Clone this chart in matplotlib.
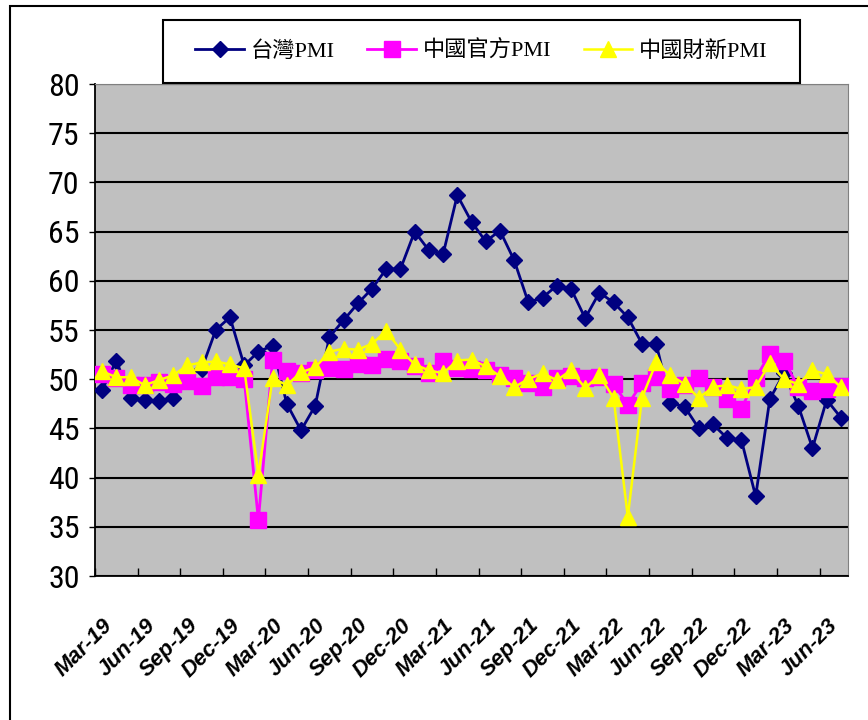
import matplotlib.pyplot as plt
from matplotlib.patches import Rectangle
from matplotlib.transforms import ScaledTranslation

# monthly PMI, Mar-19 .. Jul-23
tick_labels = ['Mar-19', 'Jun-19', 'Sep-19', 'Dec-19', 'Mar-20', 'Jun-20',
               'Sep-20', 'Dec-20', 'Mar-21', 'Jun-21', 'Sep-21', 'Dec-21',
               'Mar-22', 'Jun-22', 'Sep-22', 'Dec-22', 'Mar-23', 'Jun-23']

taiwan = [48.9, 51.9, 48.1, 47.9, 47.8, 48.1, 50.5, 51.0, 55.0, 56.3,
          51.4, 52.8, 53.4, 47.5, 44.8, 47.3, 54.3, 56.0, 57.7, 59.2,
          61.2, 61.2, 65.0, 63.1, 62.7, 68.7, 66.0, 64.0, 65.1, 62.1,
          57.8, 58.3, 59.5, 59.2, 56.2, 58.8, 57.8, 56.3, 53.6, 53.6,
          47.6, 47.2, 45.0, 45.4, 44.0, 43.8, 38.1, 48.0, 50.6, 47.3,
          43.0, 47.9, 46.1]
official = [50.5, 50.1, 49.4, 49.4, 49.7, 49.5, 49.8, 49.3, 50.2, 50.2,
            50.0, 35.7, 52.0, 50.8, 50.6, 50.9, 51.1, 51.0, 51.5, 51.4,
            52.1, 51.9, 51.3, 50.6, 51.9, 51.1, 51.0, 50.9, 50.4, 50.1,
            49.6, 49.2, 50.1, 50.3, 50.1, 50.2, 49.5, 47.4, 49.6, 50.2,
            49.0, 49.4, 50.1, 49.2, 48.0, 47.0, 50.1, 52.6, 51.9, 49.2,
            48.8, 49.0, 49.3]
caixin = [50.8, 50.2, 50.2, 49.4, 49.9, 50.4, 51.4, 51.7, 51.8, 51.5,
          51.1, 40.3, 50.1, 49.4, 50.7, 51.2, 52.8, 53.1, 53.0, 53.6,
          54.9, 53.0, 51.5, 50.9, 50.6, 51.9, 52.0, 51.3, 50.3, 49.2,
          50.0, 50.6, 49.9, 50.9, 49.1, 50.4, 48.1, 36.0, 48.1, 51.7,
          50.4, 49.5, 48.1, 49.2, 49.4, 49.0, 49.2, 51.6, 50.0, 49.5,
          50.9, 50.5, 49.2]

W, H = 868, 720
fig = plt.figure(figsize=(W / 100, H / 100), dpi=100)
ax = fig.add_axes([95 / W, 1 - 576 / H, (848 - 95) / W, (576 - 84) / H])
ax.set_facecolor('#C0C0C0')

x = list(range(len(taiwan)))
ax.plot(x, taiwan, color='#000080', lw=2, marker='D', ms=8.6,
        mec='#000080', label='台灣PMI', zorder=3)
ax.plot(x, official, color='#FF00FF', lw=2, marker='s', ms=11,
        mec='#FF00FF', label='中國官方PMI', zorder=4)
ax.plot(x, caixin, color='#FFFF00', lw=1.8, marker='^', ms=12,
        mec='#FFFF00', label='中國財新PMI', zorder=5)

ax.set_xlim(-0.5, len(x) - 0.5)
ax.set_ylim(30, 80)
ax.set_yticks(range(30, 81, 5))
ax.yaxis.grid(True, color='black', lw=1.5)
ax.set_axisbelow(True)
ax.tick_params(axis='y', length=4, width=1, pad=7)
for lab in ax.get_yticklabels():
    lab.set_family(['Liberation Sans Narrow', 'Roboto Condensed',
                    'DejaVu Sans'])
    lab.set_fontstretch('condensed')
    lab.set_fontsize(23)

ax.set_xticks(range(0, len(x), 3))
ax.set_xticklabels(tick_labels, rotation=45, ha='right', va='top',
                   rotation_mode='anchor', fontweight='bold', style='italic',
                   family='Liberation Sans', fontsize=16)
shift = ScaledTranslation(-6 / 100, -4 / 100, fig.dpi_scale_trans)
for lab in ax.get_xticklabels():
    lab.set_transform(lab.get_transform() + shift)
ax.set_xticks([i - 0.5 for i in range(0, len(x), 3)], minor=True)
ax.tick_params(axis='x', which='major', length=0, pad=28)
ax.tick_params(axis='x', which='minor', direction='in', length=6, width=1)

for side in ['top', 'right']:
    ax.spines[side].set_color('#808080')
for side in ['left', 'bottom']:
    ax.spines[side].set_color('black')
    ax.spines[side].set_linewidth(1.3)

# outer chart border
fig.patches.append(Rectangle((10 / W, -0.5), 2, 1.5 - 6 / H, fill=False,
                             ec='black', lw=1.5, transform=fig.transFigure))
# legend box
fig.patches.append(Rectangle((163 / W, 1 - 83 / H), (800 - 163) / W, 63 / H,
                             fc='white', ec='black', lw=1.5, zorder=4,
                             transform=fig.transFigure))
fig.legend(loc='center', bbox_to_anchor=(481.5 / W, 1 - 51.5 / H), ncol=3,
           frameon=False, handlelength=2.2, handletextpad=0.3,
           columnspacing=1.45,
           prop={'family': ['Liberation Serif', 'Noto Sans CJK TC'], 'size': 16})

fig.savefig('out.png', dpi=100)
